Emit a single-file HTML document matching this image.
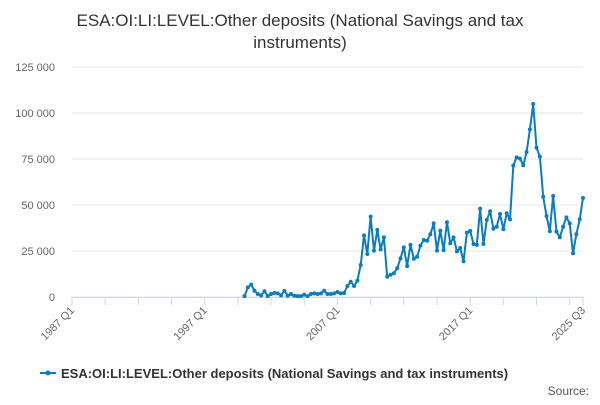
<!DOCTYPE html>
<html><head><meta charset="utf-8"><style>
body{margin:0;background:#fff;font-family:"Liberation Sans",sans-serif;}
svg text{font-family:"Liberation Sans",sans-serif;}
</style></head><body>
<svg id="c" width="600" height="400">
<text x="300" y="26" text-anchor="middle" font-size="17" fill="#333">ESA:OI:LI:LEVEL:Other deposits (National Savings and tax</text>
<text x="300" y="48" text-anchor="middle" font-size="17" fill="#333">instruments)</text>
<g id="grid"></g><g id="xax"></g><g id="ser"></g>
<g>
<line x1="40" y1="373" x2="56" y2="373" stroke="#0a7cc1" stroke-width="2"/>
<circle cx="48" cy="373" r="2.5" fill="#0a7cc1"/>
<text x="61" y="378" font-size="13" font-weight="bold" fill="#333">ESA:OI:LI:LEVEL:Other deposits (National Savings and tax instruments)</text>
</g>
<text x="589" y="395" text-anchor="end" font-size="12" fill="#555">Source:</text>
</svg>
<script>
const yTicks=[0,25000,50000,75000,100000,125000];
const xTickLabels=["1987 Q1","1997 Q1","2007 Q1","2017 Q1","2025 Q3"];
const xTickIdx=[0,40,80,120,154];
const startIdx=52;
const values=[500,5250,6700,3400,1600,900,3100,500,1600,2200,2000,900,3300,700,1600,700,500,500,1300,500,1600,2000,1600,2000,3400,1600,1600,2000,2700,2000,2200,6000,8300,6000,8900,17400,33500,23400,43700,25200,36400,25900,32400,11000,12100,12900,15600,21000,27000,16800,28300,
20800,21900,27900,31000,30600,34200,40000,25200,36100,25500,40600,29200,32400,24800,26600,19400,35000,35900,28800,28300,48000,28800,41900,46600,37100,38200,45100,36800,45500,42200,71400,75900,75200,71600,78800,91100,104900,81200,76300,54500,44000,35700,54900,35500,32400,38200,43300,40000,23700,34200,42200,53800];
const NS="http://www.w3.org/2000/svg";
const x0=72,x1=583,y0=297,y1=67,nQ=154;
const X=i=>x0+(x1-x0)*i/nQ, Y=v=>y0-(y0-y1)*v/125000;
function mk(t,a,p){const e=document.createElementNS(NS,t);for(const k in a)e.setAttribute(k,a[k]);p.appendChild(e);return e;}
const g=document.getElementById('grid');
yTicks.forEach(v=>{
 const l=mk('line',{x1:x0,x2:x1,y1:Y(v),y2:Y(v),stroke:'#e6e6e6'},g);
 
 
 const t=mk('text',{x:55,y:Y(v)+4,'text-anchor':'end','font-size':11,fill:'#666'},g);
 t.textContent=v===0?'0':v.toLocaleString('en-US').replace(/,/g,' ');
 
 
});
const xa=document.getElementById('xax');
const ax=mk('line',{x1:x0,x2:x1,y1:y0+0.5,y2:y0+0.5,stroke:'#ccd6eb'},xa);


for(let i=0;i<=nQ;i+=10){const tk=mk('line',{x1:X(i),x2:X(i),y1:y0,y2:y0+8,stroke:'#ccd6eb'},xa);
 
 }
mk('line',{x1:X(nQ),x2:X(nQ),y1:y0,y2:y0+8,stroke:'#ccd6eb'},xa);
xTickLabels.forEach((s,k)=>{const x=X(xTickIdx[k]);
 const t=mk('text',{x:x+3,y:y0+14,'text-anchor':'end','font-size':11,fill:'#666',transform:`rotate(-45 ${x+3} ${y0+14})`},xa);
 t.textContent=s;
 
 });
const s=document.getElementById('ser');
const pts=values.map((v,i)=>X(startIdx+i).toFixed(1)+','+Y(v).toFixed(1)).join(' ');
const pl=mk('polyline',{points:pts,fill:'none',stroke:'#0a7cc1','stroke-width':2,'stroke-linejoin':'round'},s);


values.forEach((v,i)=>{const c=mk('circle',{cx:X(startIdx+i),cy:Y(v),r:2,fill:'#0a7cc1'},s);
 
 });
</script>
</body></html>
